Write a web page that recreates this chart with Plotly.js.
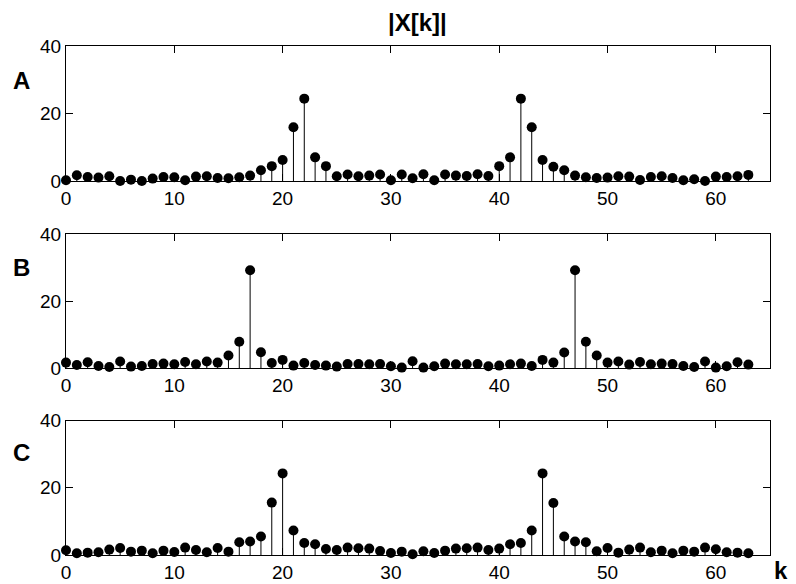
<!DOCTYPE html>
<html>
<head>
<meta charset="utf-8">
<script src="https://cdn.plot.ly/plotly-3.0.1.min.js"></script>
<style>html,body{margin:0;padding:0;background:#fff;}#chart{width:796px;height:584px;}</style>
</head>
<body>
<div id="chart"></div>
<script>
// k index 0..63
const k = Array.from({length: 64}, (_, i) => i);

const magA = [0.2,1.7,1.2,1.0,1.4,0.0,0.4,0.0,0.7,1.2,1.1,0.2,1.3,1.4,0.9,0.8,
              1.1,1.6,3.2,4.4,6.2,15.9,24.4,7.0,4.4,1.4,1.9,1.4,1.6,1.9,0.2,1.9,
              0.8,2.0,0.2,1.9,1.6,1.5,2.0,1.5,4.4,7.0,24.4,15.9,6.2,4.2,3.2,1.6,
              1.1,0.9,1.0,1.4,1.3,0.3,1.2,1.4,0.9,0.2,0.5,0.0,1.3,1.2,1.4,1.8];

const magB = [1.7,1.0,1.8,0.7,0.4,2.0,0.5,0.7,1.3,1.4,1.2,1.9,1.2,2.0,1.7,3.8,
              7.9,29.2,4.8,1.6,2.5,0.8,1.6,1.0,0.8,0.5,1.3,1.3,1.2,1.3,0.6,0.2,
              2.1,0.2,0.6,1.4,1.2,1.2,1.3,0.6,0.8,1.2,1.4,0.7,2.5,1.7,4.7,29.2,
              7.9,3.8,1.7,2.0,1.1,1.9,1.2,1.4,1.3,0.7,0.4,2.0,0.2,0.6,1.8,1.1];

const magC = [1.4,0.5,0.7,0.8,1.6,2.1,1.0,1.3,0.5,1.3,0.9,2.2,1.5,0.8,2.1,1.0,
              3.8,4.0,5.5,15.6,24.3,7.3,3.6,3.2,1.8,1.5,2.2,2.0,1.9,1.2,0.6,1.0,
              0.2,1.1,0.6,1.3,1.9,2.0,2.2,1.5,1.9,3.2,3.6,7.3,24.3,15.5,5.5,4.0,
              3.8,1.1,2.1,0.7,1.6,2.2,0.8,1.3,0.5,1.3,1.0,2.2,1.7,0.8,0.7,0.5];

const panelLabels = ['A', 'B', 'C'];
const xTicks = [0, 10, 20, 30, 40, 50, 60];
const yTicks = [0, 20, 40];

function stem(vals, xa, ya) {
  return {
    x: k, y: vals, xaxis: xa, yaxis: ya,
    type: 'scatter', mode: 'markers', cliponaxis: false,
    marker: {color: '#000', size: 10, symbol: 'circle'},
    error_y: {type: 'data', symmetric: false, array: vals.map(() => 0),
              arrayminus: vals, width: 0, thickness: 1, color: '#000'},
    hoverinfo: 'x+y', showlegend: false
  };
}

const data = [stem(magA, 'x', 'y'), stem(magB, 'x2', 'y2'), stem(magC, 'x3', 'y3')];

const tickFont = {family: 'Liberation Sans, Arial, sans-serif', size: 19, color: '#000'};
function xax(anchor) {
  return {anchor: anchor, range: [0, 65], tickvals: xTicks, ticktext: xTicks.map(String),
          ticks: 'inside', ticklen: 7, tickwidth: 1, tickcolor: '#000',
          showline: true, linecolor: '#000', linewidth: 1, mirror: 'ticks',
          showgrid: false, zeroline: false, tickfont: tickFont, fixedrange: true};
}
function yax(anchor, dom) {
  return {anchor: anchor, domain: dom, range: [0, 40], tickvals: yTicks, ticktext: yTicks.map(String),
          ticks: 'inside', ticklen: 7, tickwidth: 1, tickcolor: '#000',
          showline: true, linecolor: '#000', linewidth: 1, mirror: 'ticks',
          showgrid: false, zeroline: false, tickfont: tickFont, fixedrange: true};
}

const boldFont = {family: 'Liberation Sans, Arial, sans-serif', size: 24, color: '#000', weight: 'bold'};
const labelY = [0.9332, 0.5639, 0.2004];
const annotations = panelLabels.map((t, i) => ({
  text: '<b>' + t + '</b>', xref: 'paper', yref: 'paper', x: -0.063, y: labelY[i],
  xanchor: 'center', yanchor: 'middle', showarrow: false, font: boldFont
}));
annotations.push({text: '<b>|X[k]|</b>', xref: 'paper', yref: 'paper', x: 0.4986, y: 1.046,
  xanchor: 'center', yanchor: 'middle', showarrow: false, font: boldFont});
annotations.push({text: '<b>k</b>', xref: 'paper', yref: 'paper', x: 1.0156, y: -0.0295,
  xanchor: 'center', yanchor: 'middle', showarrow: false, font: boldFont});

const layout = {
  width: 796, height: 584,
  margin: {l: 66, r: 26, t: 46, b: 29},
  paper_bgcolor: '#fff', plot_bgcolor: '#fff',
  showlegend: false,
  xaxis: xax('y'), yaxis: yax('x', [0.7348, 1]),
  xaxis2: xax('y2'), yaxis2: yax('x2', [0.3668, 0.6306]),
  xaxis3: xax('y3'), yaxis3: yax('x3', [0, 0.2639]),
  annotations: annotations
};

Plotly.newPlot('chart', data, layout, {displayModeBar: false, staticPlot: true});
</script>
</body>
</html>
